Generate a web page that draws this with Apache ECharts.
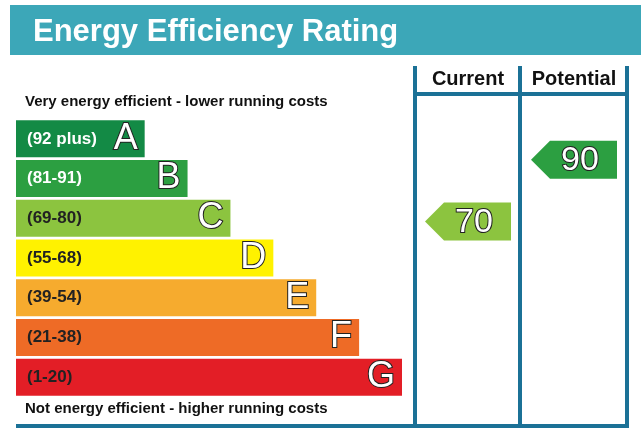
<!DOCTYPE html>
<html>
<head>
<meta charset="UTF-8">
<title>Energy Efficiency Rating</title>
<script src="https://cdn.jsdelivr.net/npm/echarts@6/dist/echarts.min.js"></script>
<style>
  html, body { margin: 0; padding: 0; background: #fff; }
  #main { width: 641px; height: 437px; }
</style>
</head>
<body>
<div id="main"></div>
<script>
// rating bands, top (best) to bottom
var bands = ['A', 'B', 'C', 'D', 'E', 'F', 'G'];
var ranges = ['(92 plus)', '(81-91)', '(69-80)', '(55-68)', '(39-54)', '(21-38)', '(1-20)'];
var barLengths = [3, 4, 5, 6, 7, 8, 9];
var bandColors = ['#138a45', '#2c9f41', '#8cc43f', '#fff200', '#f6ab2e', '#ee6b26', '#e31e26'];
var rangeTextColors = ['#fff', '#fff', '#222', '#222', '#222', '#222', '#222'];

// current / potential scores
var columns = ['Current', 'Potential'];
var ratings = [70, 90];
var ratingColors = ['#8cc43f', '#2c9f41'];

var lineColor = '#1b7196';
var font = 'Liberation Sans, Arial, sans-serif';

var chart = echarts.init(document.getElementById('main'), null, { renderer: 'canvas' });

var option = {
  animation: false,
  title: {
    text: 'Energy Efficiency Rating',
    left: 33,
    top: 17,
    padding: 0,
    textStyle: { color: '#fff', fontSize: 31, fontWeight: 'bold', fontFamily: font }
  },
  graphic: [
    { type: 'rect', z: -10, shape: { x: 10, y: 5, width: 631, height: 50 }, style: { fill: '#3ca7b8' } },
    { type: 'text', style: { text: 'Very energy efficient - lower running costs', x: 25, y: 102, verticalAlign: 'middle', font: 'bold 15px ' + font, fill: '#111' } },
    { type: 'text', style: { text: 'Not energy efficient - higher running costs', x: 25, y: 409, verticalAlign: 'middle', font: 'bold 15px ' + font, fill: '#111' } },
    { type: 'line', shape: { x1: 415, y1: 66, x2: 415, y2: 426 }, style: { stroke: lineColor, lineWidth: 4 } },
    { type: 'line', shape: { x1: 520, y1: 66, x2: 520, y2: 426 }, style: { stroke: lineColor, lineWidth: 4 } },
    { type: 'line', shape: { x1: 627, y1: 66, x2: 627, y2: 428 }, style: { stroke: lineColor, lineWidth: 4 } },
    { type: 'line', shape: { x1: 415, y1: 94, x2: 627, y2: 94 }, style: { stroke: lineColor, lineWidth: 4 } },
    { type: 'line', shape: { x1: 16, y1: 426, x2: 629, y2: 426 }, style: { stroke: lineColor, lineWidth: 4 } }
  ],
  grid: [
    { left: 16, top: 119, width: 386, height: 278 },
    { left: 415, top: 129, width: 212, height: 350 }
  ],
  xAxis: [
    { gridIndex: 0, type: 'value', min: 0, max: 9, show: false },
    {
      gridIndex: 1, type: 'category', data: columns, position: 'top',
      axisLine: { show: false }, axisTick: { show: false }, splitLine: { show: false },
      axisLabel: { interval: 0, hideOverlap: false, margin: 40, color: '#111', fontSize: 20, fontWeight: 'bold', fontFamily: font }
    }
  ],
  yAxis: [
    { gridIndex: 0, type: 'category', data: bands, inverse: true, show: false },
    { gridIndex: 1, type: 'value', min: 0, max: 100, show: false }
  ],
  series: [
    {
      type: 'bar',
      xAxisIndex: 0, yAxisIndex: 0,
      barWidth: 37,
      data: barLengths.map(function (v, i) {
        return {
          value: v,
          itemStyle: { color: bandColors[i] },
          label: { color: rangeTextColors[i] }
        };
      }),
      label: {
        show: true,
        position: 'insideLeft',
        distance: 11,
        fontSize: 17,
        fontWeight: 'bold',
        fontFamily: font,
        formatter: function (p) { return ranges[p.dataIndex]; }
      }
    },
    {
      type: 'bar',
      xAxisIndex: 0, yAxisIndex: 0,
      barWidth: 37,
      barGap: '-100%',
      data: barLengths,
      itemStyle: { color: 'transparent' },
      label: {
        show: true,
        position: 'insideRight',
        distance: 7,
        fontSize: 36,
        fontFamily: font,
        color: '#fff',
        textBorderColor: '#222',
        textBorderWidth: 2,
        formatter: function (p) { return bands[p.dataIndex]; }
      }
    },
    {
      type: 'custom',
      xAxisIndex: 1, yAxisIndex: 1,
      data: ratings.map(function (v, i) { return [i, v]; }),
      renderItem: function (params, api) {
        var c = api.coord([api.value(0), api.value(1)]);
        var w = 86, h = 38, tip = 19;
        var x0 = c[0] - w / 2, x1 = c[0] + w / 2;
        return {
          type: 'group',
          children: [
            {
              type: 'polygon',
              shape: { points: [[x0, c[1]], [x0 + tip, c[1] - h / 2], [x1, c[1] - h / 2], [x1, c[1] + h / 2], [x0 + tip, c[1] + h / 2]] },
              style: { fill: ratingColors[params.dataIndex] }
            },
            {
              type: 'text',
              style: {
                text: String(api.value(1)),
                x: c[0] + 6, y: c[1] + 1,
                align: 'center', verticalAlign: 'middle',
                font: '34px ' + font,
                fill: '#fff', stroke: '#222', lineWidth: 2
              }
            }
          ]
        };
      }
    }
  ]
};

chart.setOption(option);
</script>
</body>
</html>
